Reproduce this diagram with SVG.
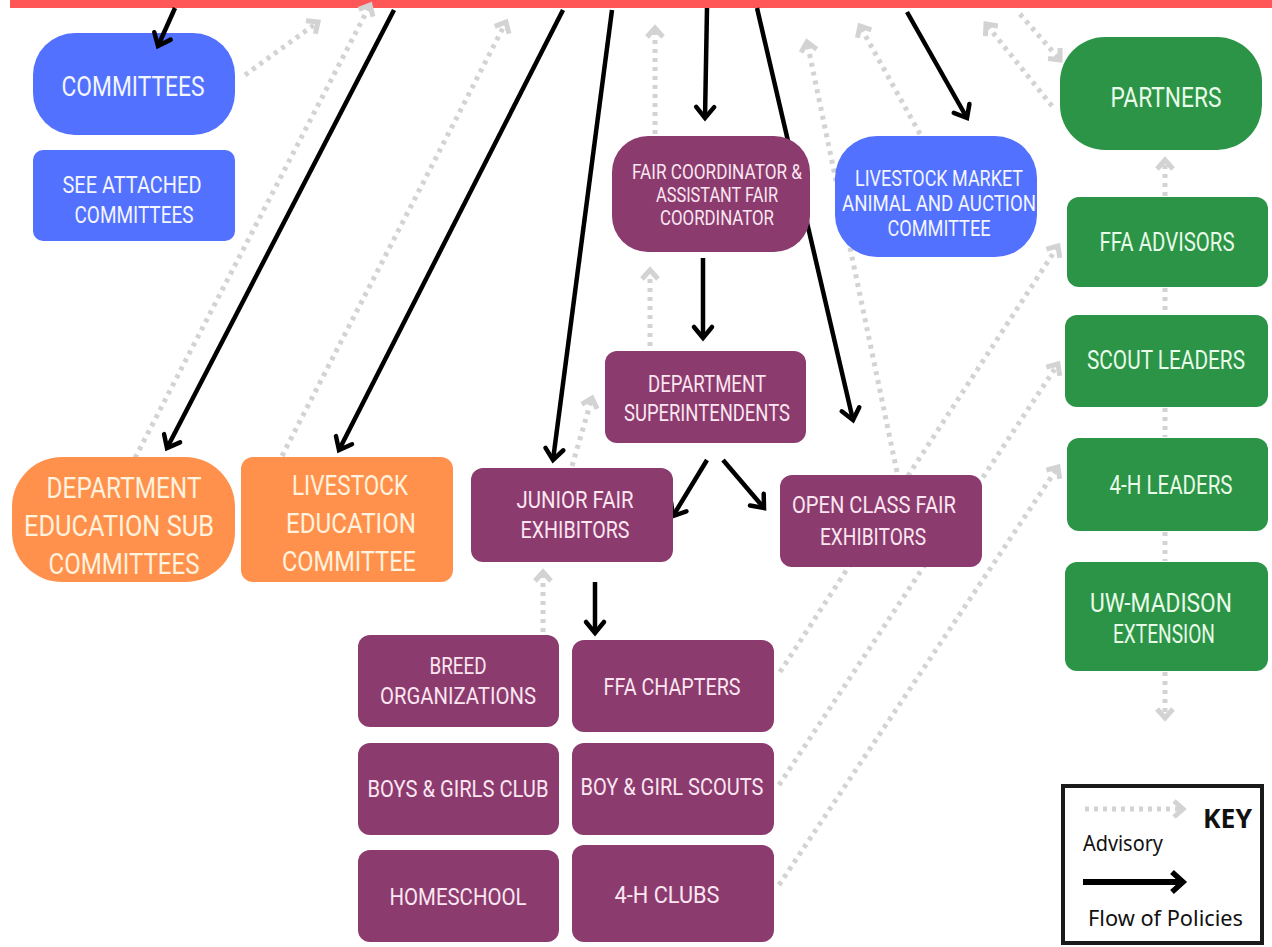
<svg xmlns="http://www.w3.org/2000/svg" width="1272" height="947" viewBox="0 0 1272 947">
<style>
.blue{fill:#5271ff}
.purple{fill:#8c3b6e}
.green{fill:#2c9447}
.orange{fill:#ff914d}
text{font-family:Roboto,"Liberation Sans",sans-serif;text-anchor:middle}
.tb{fill:#f3f5ff}
.tp{fill:#fbe6f1}
.tg{fill:#e9fbe9}
.to{fill:#fff2de}
.adv{fill:none;stroke:#d3d3d3;stroke-width:5;stroke-dasharray:4 5;marker-end:url(#ga)}
.advn{fill:none;stroke:#d3d3d3;stroke-width:5;stroke-dasharray:4 5}
.pol{fill:none;stroke:#000;stroke-width:4.5;marker-end:url(#ba)}
.key{font-family:"Noto Sans","Open Sans",sans-serif;fill:#111;text-anchor:start}
</style>
<defs>
<marker id="ba" markerUnits="userSpaceOnUse" markerWidth="30" markerHeight="30" viewBox="-15 -15 30 30" refX="0" refY="0" orient="auto">
<path d="M-11,-9 L0,0 L-11,9" fill="none" stroke="#000" stroke-width="4.5" stroke-linecap="round" stroke-linejoin="miter"/>
</marker>
<marker id="ga" markerUnits="userSpaceOnUse" markerWidth="30" markerHeight="30" viewBox="-15 -15 30 30" refX="0" refY="0" orient="auto">
<path d="M-9,-8 L0,0 L-9,8" fill="none" stroke="#d3d3d3" stroke-width="5"/>
</marker>
<marker id="kb" markerUnits="userSpaceOnUse" markerWidth="30" markerHeight="30" viewBox="-15 -15 30 30" refX="0" refY="0" orient="auto">
<path d="M-11,-10 L0,0 L-11,10" fill="none" stroke="#000" stroke-width="5.5"/>
</marker>
</defs>
<rect width="1272" height="947" fill="#fff"/>
<rect x="10" y="0" width="1262" height="8" fill="#ff5757"/>

<g id="connectors">
<path class="adv" d="M245,75 L318,22"/>
<path class="adv" d="M135,458 L370,5"/>
<path class="adv" d="M282,456 L506,22"/>
<path class="adv" d="M572,466 L592,398"/>
<path class="adv" d="M655,134 L655,28"/>
<path class="adv" d="M650,346 L650,270"/>
<path class="adv" d="M543,632 L543,572"/>
<path class="adv" d="M897,472 L807,42"/>
<path class="adv" d="M920,134 L860,26"/>
<path class="adv" d="M1052,106 L986,24"/>
<path class="adv" d="M1020,14 L1060,60"/>
<path class="adv" d="M1165,196 L1165,160"/>
<path class="advn" d="M1165,288 L1165,314"/>
<path class="advn" d="M1165,408 L1165,437"/>
<path class="advn" d="M1165,532 L1165,561"/>
<path class="adv" d="M1165,672 L1165,718"/>
<path class="adv" d="M780,672 L1058,246"/>
<path class="adv" d="M779,785 L1058,364"/>
<path class="adv" d="M779,885 L1058,467"/>
<path class="pol" d="M394,10 L167,448"/>
<path class="pol" d="M563,10 L339,450"/>
<path class="pol" d="M612,10 L553,460"/>
<path class="pol" d="M707,8 L705,118"/>
<path class="pol" d="M757,8 L853,420"/>
<path class="pol" d="M907,12 L967,118"/>
<path class="pol" d="M703,258 L703,338"/>
<path class="pol" d="M707,460 L673,516"/>
<path class="pol" d="M723,460 L764,508"/>
<path class="pol" d="M595,582 L595,633"/>
</g>

<g id="committees"><rect class="blue" x="33" y="33" width="202" height="102" rx="42"/><text class="tb" x="133" y="96" font-size="27" textLength="143" lengthAdjust="spacingAndGlyphs">COMMITTEES</text></g>
<g id="see-attached"><rect class="blue" x="33" y="150" width="202" height="91" rx="10"/><text class="tb" x="132" y="193" font-size="24" textLength="139" lengthAdjust="spacingAndGlyphs">SEE ATTACHED</text><text class="tb" x="134" y="223" font-size="24" textLength="119" lengthAdjust="spacingAndGlyphs">COMMITTEES</text></g>
<g id="fair-coordinator"><rect class="purple" x="612" y="136" width="198" height="116" rx="36"/><text class="tp" x="717" y="179" font-size="20" textLength="170" lengthAdjust="spacingAndGlyphs">FAIR COORDINATOR &amp;</text><text class="tp" x="717" y="202" font-size="20" textLength="122" lengthAdjust="spacingAndGlyphs">ASSISTANT FAIR</text><text class="tp" x="717" y="225" font-size="20" textLength="114" lengthAdjust="spacingAndGlyphs">COORDINATOR</text></g>
<g id="livestock-market"><rect class="blue" x="835" y="136" width="202" height="121" rx="42"/><text class="tb" x="939" y="186" font-size="22" textLength="168" lengthAdjust="spacingAndGlyphs">LIVESTOCK MARKET</text><text class="tb" x="939" y="211" font-size="22" textLength="194" lengthAdjust="spacingAndGlyphs">ANIMAL AND AUCTION</text><text class="tb" x="939" y="236" font-size="22" textLength="103" lengthAdjust="spacingAndGlyphs">COMMITTEE</text></g>
<g id="partners"><rect class="green" x="1060" y="37" width="202" height="113" rx="45"/><text class="tg" x="1166" y="107" font-size="27" textLength="111" lengthAdjust="spacingAndGlyphs">PARTNERS</text></g>
<g id="ffa-advisors"><rect class="green" x="1067" y="197" width="201" height="90" rx="12"/><text class="tg" x="1167" y="251" font-size="25" textLength="135" lengthAdjust="spacingAndGlyphs">FFA ADVISORS</text></g>
<g id="scout-leaders"><rect class="green" x="1065" y="315" width="203" height="92" rx="12"/><text class="tg" x="1166" y="369" font-size="25" textLength="158" lengthAdjust="spacingAndGlyphs">SCOUT LEADERS</text></g>
<g id="4h-leaders"><rect class="green" x="1067" y="438" width="201" height="93" rx="12"/><text class="tg" x="1171" y="494" font-size="25" textLength="123" lengthAdjust="spacingAndGlyphs">4-H LEADERS</text></g>
<g id="uw-madison"><rect class="green" x="1065" y="562" width="203" height="109" rx="12"/><text class="tg" x="1161" y="612" font-size="25" textLength="142" lengthAdjust="spacingAndGlyphs">UW-MADISON</text><text class="tg" x="1164" y="643" font-size="25" textLength="102" lengthAdjust="spacingAndGlyphs">EXTENSION</text></g>
<g id="dept-superintendents"><rect class="purple" x="605" y="351" width="201" height="92" rx="12"/><text class="tp" x="707" y="392" font-size="23" textLength="118" lengthAdjust="spacingAndGlyphs">DEPARTMENT</text><text class="tp" x="707" y="421" font-size="23" textLength="166" lengthAdjust="spacingAndGlyphs">SUPERINTENDENTS</text></g>
<g id="junior-fair"><rect class="purple" x="471" y="468" width="202" height="94" rx="12"/><text class="tp" x="575" y="508" font-size="24" textLength="117" lengthAdjust="spacingAndGlyphs">JUNIOR FAIR</text><text class="tp" x="575" y="538" font-size="24" textLength="109" lengthAdjust="spacingAndGlyphs">EXHIBITORS</text></g>
<g id="open-class"><rect class="purple" x="780" y="475" width="202" height="92" rx="12"/><text class="tp" x="874" y="513" font-size="24" textLength="164" lengthAdjust="spacingAndGlyphs">OPEN CLASS FAIR</text><text class="tp" x="873" y="545" font-size="24" textLength="106" lengthAdjust="spacingAndGlyphs">EXHIBITORS</text></g>
<g id="dept-education-sub"><rect class="orange" x="12" y="457" width="223" height="125" rx="50"/><text class="to" x="124" y="498" font-size="29" textLength="155" lengthAdjust="spacingAndGlyphs">DEPARTMENT</text><text class="to" x="119" y="536" font-size="29" textLength="190" lengthAdjust="spacingAndGlyphs">EDUCATION SUB</text><text class="to" x="124" y="574" font-size="29" textLength="151" lengthAdjust="spacingAndGlyphs">COMMITTEES</text></g>
<g id="livestock-education"><rect class="orange" x="241" y="457" width="212" height="125" rx="12"/><text class="to" x="350" y="495" font-size="28" textLength="116" lengthAdjust="spacingAndGlyphs">LIVESTOCK</text><text class="to" x="351" y="533" font-size="28" textLength="130" lengthAdjust="spacingAndGlyphs">EDUCATION</text><text class="to" x="349" y="571" font-size="28" textLength="134" lengthAdjust="spacingAndGlyphs">COMMITTEE</text></g>
<g id="breed"><rect class="purple" x="358" y="635" width="201" height="92" rx="12"/><text class="tp" x="458" y="674" font-size="23" textLength="57" lengthAdjust="spacingAndGlyphs">BREED</text><text class="tp" x="458" y="704" font-size="23" textLength="156" lengthAdjust="spacingAndGlyphs">ORGANIZATIONS</text></g>
<g id="ffa-chapters"><rect class="purple" x="572" y="640" width="202" height="92" rx="12"/><text class="tp" x="672" y="695" font-size="24" textLength="137" lengthAdjust="spacingAndGlyphs">FFA CHAPTERS</text></g>
<g id="boys-girls-club"><rect class="purple" x="358" y="743" width="201" height="92" rx="12"/><text class="tp" x="458" y="797" font-size="24" textLength="181" lengthAdjust="spacingAndGlyphs">BOYS &amp; GIRLS CLUB</text></g>
<g id="boy-girl-scouts"><rect class="purple" x="572" y="743" width="202" height="92" rx="12"/><text class="tp" x="672" y="795" font-size="24" textLength="183" lengthAdjust="spacingAndGlyphs">BOY &amp; GIRL SCOUTS</text></g>
<g id="homeschool"><rect class="purple" x="358" y="850" width="201" height="92" rx="12"/><text class="tp" x="458" y="905" font-size="24" textLength="137" lengthAdjust="spacingAndGlyphs">HOMESCHOOL</text></g>
<g id="4h-clubs"><rect class="purple" x="572" y="845" width="202" height="97" rx="12"/><text class="tp" x="667" y="903" font-size="24" textLength="105" lengthAdjust="spacingAndGlyphs">4-H CLUBS</text></g>

<g id="connectors-over">
<path class="pol" d="M175,8 L158,46"/>
</g>

<g id="key">
<rect x="1063" y="786" width="199" height="157" fill="#fff" stroke="#1a1a1a" stroke-width="4"/>
<path d="M1085,809 L1183,809" fill="none" stroke="#d3d3d3" stroke-width="5" stroke-dasharray="4 5" marker-end="url(#ga)"/>
<text class="key" x="1203" y="828" font-size="26" font-weight="bold" textLength="49" lengthAdjust="spacingAndGlyphs">KEY</text>
<text class="key" x="1083" y="851" font-size="21" textLength="80" lengthAdjust="spacingAndGlyphs">Advisory</text>
<path d="M1083,882 L1183,882" fill="none" stroke="#000" stroke-width="6" marker-end="url(#kb)"/>
<text class="key" x="1088" y="926" font-size="21" textLength="155" lengthAdjust="spacingAndGlyphs">Flow of Policies</text>
</g>
</svg>
